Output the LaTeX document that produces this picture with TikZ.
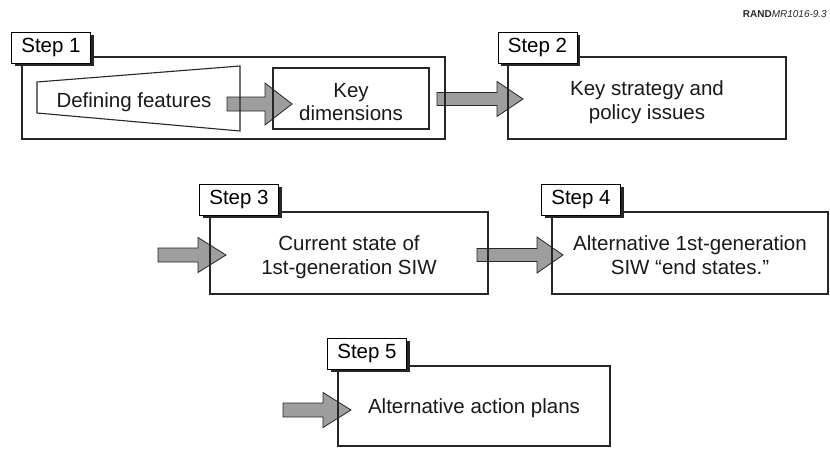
\documentclass[tikz,border=0pt]{standalone}
\usepackage{fontspec}
\setmainfont{Liberation Sans}
\usetikzlibrary{shadows}
\newcommand{\blockarrow}[6]{% x1, xh, x2, yc, shaft half, head half
  \draw[arrowbox] (#1,#4-#5) -- (#2,#4-#5) -- (#2,#4-#6) -- (#3,#4)
    -- (#2,#4+#6) -- (#2,#4+#5) -- (#1,#4+#5) -- cycle;}
\begin{document}
\begin{tikzpicture}[x=1pt,y=-1pt,
  txt/.style={font=\fontsize{20.5}{24}\selectfont, inner sep=0pt, text=black!90},
  stepbox/.style={draw=black!85, line width=1.1pt, inner sep=0pt},
  tabbox/.style={draw=black, fill=white, line width=1pt, inner sep=0pt,
    minimum width=79pt, minimum height=31pt,
    font=\fontsize{20.5}{24}\selectfont,
    drop shadow={shadow xshift=3pt, shadow yshift=-3pt, fill=black!85, opacity=1}},
  arrowbox/.style={fill={rgb,255:red,158;green,158;blue,158}, draw=black!85, line width=0.8pt, line join=miter}]
\useasboundingbox (0,0) rectangle (830,448);

% block arrows (drawn first, boxes drawn over them)
\blockarrow{227}{265}{292}{104}{7}{21}
\blockarrow{437}{497}{523}{99}{6.5}{17.5}
\blockarrow{158}{198}{226}{255}{7}{17.5}
\blockarrow{477}{537}{563}{255}{6.5}{18}
\blockarrow{283}{323}{351}{410}{7}{17.5}

% Step 1
\node[stepbox, minimum width=423pt, minimum height=82pt] (b1) at (233.5,98) {};
\draw[stepbox] (37,82) -- (240,66) -- (240,131) -- (37,113) -- cycle;
\node[txt, anchor=base] (def) at (134,107) {Defining features};
\node[stepbox, minimum width=156pt, minimum height=61pt] (kd) at (351,98.5) {};
\node[txt, anchor=base] (kd1) at (351,97) {Key};
\node[txt, anchor=base] (kd2) at (351,120) {dimensions};
\node[tabbox] (t1) at (51,47.5) {Step 1};

% Step 2
\node[stepbox, minimum width=278pt, minimum height=82pt] (b2) at (647,98) {};
\node[txt, anchor=base] (s2a) at (647,95) {Key strategy and};
\node[txt, anchor=base] (s2b) at (647,119) {policy issues};
\node[tabbox] (t2) at (537.5,47.5) {Step 2};

% Step 3
\node[stepbox, minimum width=278pt, minimum height=82pt] (b3) at (349,253) {};
\node[txt, anchor=base] (s3a) at (349,250) {Current state of};
\node[txt, anchor=base] (s3b) at (349,274) {1st-generation SIW};
\node[tabbox] (t3) at (239,199.5) {Step 3};

% Step 4
\node[stepbox, minimum width=276pt, minimum height=82pt] (b4) at (690,253) {};
\node[txt, anchor=base] (s4a) at (690,250) {Alternative 1st-generation};
\node[txt, anchor=base] (s4b) at (690,274) {SIW “end states.”};
\node[tabbox] (t4) at (581,199.5) {Step 4};

% Step 5
\node[stepbox, minimum width=272pt, minimum height=80pt] (b5) at (474,406) {};
\node[txt, anchor=base] (s5) at (474,413) {Alternative action plans};
\node[tabbox] (t5) at (367,353.5) {Step 5};

% source label
\node[anchor=base east, inner sep=0pt, font=\fontsize{10}{12}\selectfont, text=black!85] (rand) at (827,17) {\textbf{RAND}\textit{MR1016-9.3}};
\end{tikzpicture}
\end{document}
